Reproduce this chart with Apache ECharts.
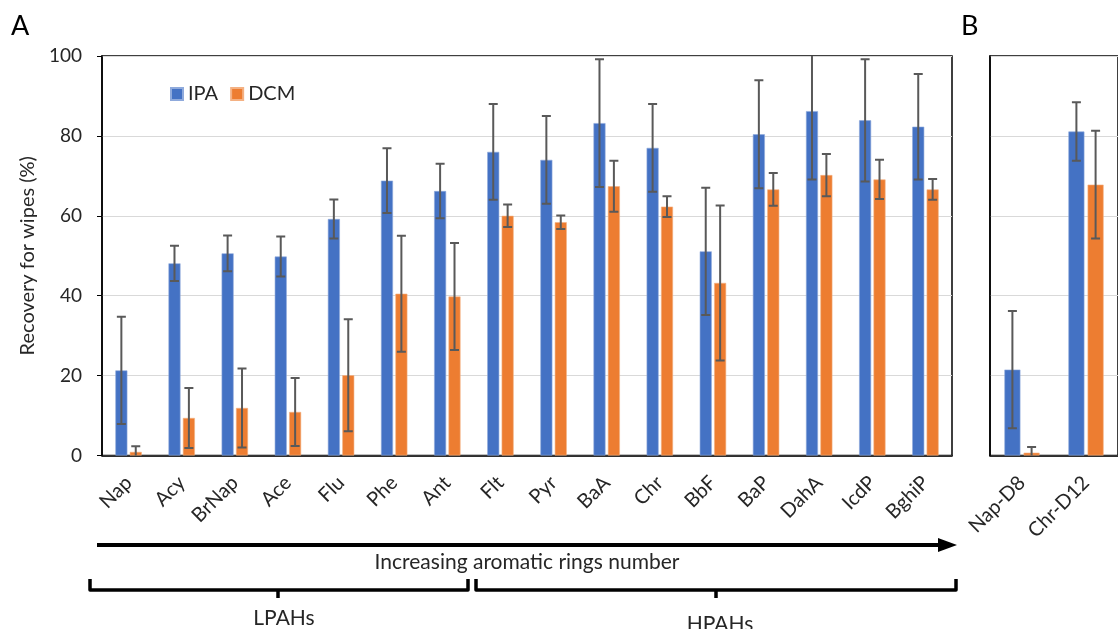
<!DOCTYPE html>
<html><head><meta charset="utf-8">
<script src="https://cdn.jsdelivr.net/npm/echarts@6/dist/echarts.min.js"></script>
<style>html,body{margin:0;padding:0;background:#fff}#c{width:1118px;height:629px}</style>
</head><body><div id="c"></div>
<script>
// ---- data ----
const categoriesA = ['Nap','Acy','BrNap','Ace','Flu','Phe','Ant','Flt','Pyr','BaA','Chr','BbF','BaP','DahA','IcdP','BghiP'];
const ipaA    = [21.3,48.1,50.6,49.8,59.2,68.8,66.2,76.0,74.0,83.2,77.0,51.1,80.4,86.2,83.9,82.3];
const ipaErrA = [13.4,4.4,4.5,5.0,4.9,8.1,6.8,12.0,11.0,16.0,11.0,15.9,13.5,17.1,15.3,13.2];
const dcmA    = [0.9,9.4,11.9,10.9,20.1,40.5,39.8,60.0,58.4,67.4,62.3,43.2,66.6,70.2,69.1,66.6];
const dcmErrA = [1.4,7.5,9.9,8.5,14.0,14.5,13.4,2.8,1.7,6.4,2.6,19.4,4.1,5.3,4.9,2.6];

const categoriesB = ['Nap-D8','Chr-D12'];
const ipaB    = [21.5,81.1];
const ipaErrB = [14.7,7.3];
const dcmB    = [0.7,67.8];
const dcmErrB = [1.4,13.5];

const yMin = 0, yMax = 100, yStep = 20;
const seriesNames = ['IPA','DCM'];

// ---- styles ----
const BLUE = '#4472C4', ORANGE = '#ED7D31', ERR = '#595959', TXT = '#262626';
const FONT = 'Lato, "Open Sans", sans-serif';

function errData(vals, errs){ return vals.map((v,i)=>[i, v-errs[i], v+errs[i]]); }
function errRender(offset, cap){
  return function(params, api){
    const i = api.value(0);
    const lo = api.coord([i, api.value(1)]);
    const hi = api.coord([i, api.value(2)]);
    const x = lo[0] + offset;
    const st = {stroke: ERR, lineWidth: 2};
    return {type:'group', children:[
      {type:'line', shape:{x1:x,y1:lo[1],x2:x,y2:hi[1]}, style:st},
      {type:'line', shape:{x1:x-cap,y1:lo[1],x2:x+cap,y2:lo[1]}, style:st},
      {type:'line', shape:{x1:x-cap,y1:hi[1],x2:x+cap,y2:hi[1]}, style:st}
    ]};
  };
}

const chart = echarts.init(document.getElementById('c'), null, {renderer:'canvas'});
const gridBorder = {show:true, borderColor:'#000', borderWidth:1.5, backgroundColor:'transparent'};
const splitLine = {show:true, lineStyle:{color:'#d9d9d9', width:1}};
const catLabel = {rotate:45, fontSize:20, color:TXT, fontFamily:FONT, margin:24, interval:0};

const option = {
  backgroundColor:'#fff',
  animation:false,
  textStyle:{fontFamily:FONT},
  legend:{
    data:seriesNames, left:165, top:79, itemWidth:12, itemHeight:12, itemGap:12,
    icon:'rect', textStyle:{fontSize:20, color:TXT, fontFamily:FONT}
  },
  grid:[
    Object.assign({left:102, right:166, top:56, height:399.5}, gridBorder),
    Object.assign({left:990, width:140, top:56, height:399.5}, gridBorder)
  ],
  xAxis:[
    {type:'category', gridIndex:0, data:categoriesA, axisTick:{show:false},
     axisLine:{lineStyle:{color:'#000', width:1.5}}, axisLabel:catLabel},
    {type:'category', gridIndex:1, data:categoriesB, axisTick:{show:false},
     axisLine:{lineStyle:{color:'#000', width:1.5}}, axisLabel:catLabel}
  ],
  yAxis:[
    {type:'value', gridIndex:0, min:yMin, max:yMax, interval:yStep,
     name:'Recovery for wipes (%)', nameLocation:'middle', nameGap:56,
     nameTextStyle:{fontSize:20, color:TXT, fontFamily:FONT},
     axisLine:{show:true, lineStyle:{color:'#000', width:1.5}},
     axisTick:{show:true, length:5, lineStyle:{color:'#000'}},
     axisLabel:{fontSize:19, color:TXT, fontFamily:FONT, margin:20},
     splitLine:splitLine},
    {type:'value', gridIndex:1, min:yMin, max:yMax, interval:yStep,
     axisLine:{show:true, lineStyle:{color:'#000', width:1.5}},
     axisTick:{show:false}, axisLabel:{show:false}, splitLine:splitLine}
  ],
  series:[
    {name:seriesNames[0], type:'bar', xAxisIndex:0, yAxisIndex:0, data:ipaA, barWidth:12, barGap:'20%',
     itemStyle:{color:BLUE, borderColor:'#8faadc', borderWidth:0.6}},
    {name:seriesNames[1], type:'bar', xAxisIndex:0, yAxisIndex:0, data:dcmA, barWidth:12, barGap:'20%',
     itemStyle:{color:ORANGE, borderColor:'#f4b183', borderWidth:0.6}},
    {name:seriesNames[0], type:'bar', xAxisIndex:1, yAxisIndex:1, data:ipaB, barWidth:16, barGap:'20%',
     itemStyle:{color:BLUE, borderColor:'#8faadc', borderWidth:0.6}},
    {name:seriesNames[1], type:'bar', xAxisIndex:1, yAxisIndex:1, data:dcmB, barWidth:16, barGap:'20%',
     itemStyle:{color:ORANGE, borderColor:'#f4b183', borderWidth:0.6}},
    {type:'custom', xAxisIndex:0, yAxisIndex:0, data:errData(ipaA, ipaErrA), renderItem:errRender(-7.2, 4.5), clip:true, z:5, encode:{x:0, y:[1,2]}, silent:true},
    {type:'custom', xAxisIndex:0, yAxisIndex:0, data:errData(dcmA, dcmErrA), renderItem:errRender(7.2, 4.5), clip:true, z:5, encode:{x:0, y:[1,2]}, silent:true},
    {type:'custom', xAxisIndex:1, yAxisIndex:1, data:errData(ipaB, ipaErrB), renderItem:errRender(-9.6, 4.5), clip:true, z:5, encode:{x:0, y:[1,2]}, silent:true},
    {type:'custom', xAxisIndex:1, yAxisIndex:1, data:errData(dcmB, dcmErrB), renderItem:errRender(9.6, 4.5), clip:true, z:5, encode:{x:0, y:[1,2]}, silent:true}
  ],
  graphic:[
    {type:'text', left:11, top:13, style:{text:'A', fontSize:27, fill:'#000', fontFamily:FONT}},
    {type:'text', left:961, top:13, style:{text:'B', fontSize:27, fill:'#000', fontFamily:FONT}},
    {type:'line', shape:{x1:97, y1:545, x2:942, y2:545}, style:{stroke:'#000', lineWidth:4}},
    {type:'polygon', shape:{points:[[938,538],[957,545],[938,552]]}, style:{fill:'#000'}},
    {type:'text', x:527, y:562, style:{text:'Increasing aromatic rings number', fontSize:21, fill:TXT, fontFamily:FONT, align:'center', verticalAlign:'middle'}},
    {type:'polyline', shape:{points:[[90,579],[90,590],[468,590],[468,579]]}, style:{stroke:'#000', lineWidth:3.5, fill:null, lineJoin:'round'}},
    {type:'line', shape:{x1:278, y1:590, x2:278, y2:598}, style:{stroke:'#000', lineWidth:3.5}},
    {type:'polyline', shape:{points:[[476,579],[476,590],[956,590],[956,579]]}, style:{stroke:'#000', lineWidth:3.5, fill:null, lineJoin:'round'}},
    {type:'line', shape:{x1:716, y1:590, x2:716, y2:598}, style:{stroke:'#000', lineWidth:3.5}},
    {type:'text', x:284, y:618, style:{text:'LPAHs', fontSize:21, fill:TXT, fontFamily:FONT, align:'center', verticalAlign:'middle'}},
    {type:'text', x:720, y:624, style:{text:'HPAHs', fontSize:21, fill:TXT, fontFamily:FONT, align:'center', verticalAlign:'middle'}}
  ]
};
chart.setOption(option);
</script>
</body></html>
